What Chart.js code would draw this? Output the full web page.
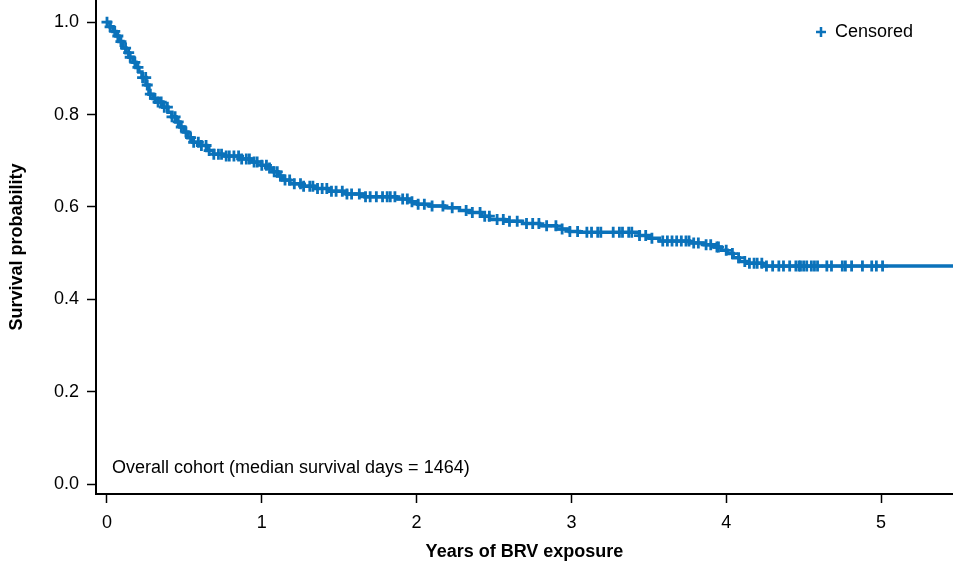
<!DOCTYPE html>
<html>
<head>
<meta charset="utf-8">
<script src="https://cdn.jsdelivr.net/npm/chart.js@4.4.1/dist/chart.umd.min.js"></script>
<style>
  html, body { margin: 0; padding: 0; background: #fff; }
  #wrap { width: 953px; height: 561px; }
</style>
</head>
<body>
<div id="wrap"><canvas id="km" width="953" height="561"></canvas></div>
<script>
// Kaplan-Meier steps: time (years) and survival after each drop
const stepYears = [0, 0.019, 0.039, 0.058, 0.077, 0.103, 0.123, 0.142, 0.168, 0.187, 0.206, 0.226,
  0.252, 0.271, 0.297, 0.329, 0.361, 0.394, 0.419, 0.445, 0.471, 0.497, 0.523, 0.555, 0.600,
  0.645, 0.690, 0.761, 0.858, 0.935, 1.000, 1.039, 1.071, 1.103, 1.135, 1.181, 1.258, 1.342,
  1.439, 1.548, 1.665, 1.871, 1.955, 2.006, 2.084, 2.181, 2.277, 2.342, 2.419, 2.471, 2.568,
  2.684, 2.794, 2.903, 2.987, 3.052, 3.439, 3.503, 3.568, 3.761, 3.858, 3.923, 3.968, 4.006,
  4.045, 4.084, 4.135, 4.232];
const stepSurv = [1.000, 0.990, 0.980, 0.970, 0.958, 0.944, 0.934, 0.924, 0.913, 0.902, 0.892, 0.880,
  0.864, 0.844, 0.835, 0.827, 0.816, 0.805, 0.795, 0.784, 0.773, 0.762, 0.750, 0.740, 0.733,
  0.722, 0.714, 0.710, 0.704, 0.697, 0.690, 0.684, 0.676, 0.667, 0.658, 0.650, 0.645, 0.640,
  0.634, 0.628, 0.622, 0.617, 0.611, 0.606, 0.602, 0.598, 0.592, 0.588, 0.580, 0.573, 0.569,
  0.564, 0.559, 0.552, 0.547, 0.545, 0.538, 0.532, 0.526, 0.522, 0.518, 0.513, 0.506, 0.499,
  0.490, 0.482, 0.478, 0.472];
// censored follow-up times (years)
const censorYears = [0.00, 0.02, 0.05, 0.07, 0.09, 0.12, 0.14, 0.15, 0.18, 0.20, 0.23, 0.25, 0.26,
  0.28, 0.31, 0.33, 0.35, 0.37, 0.39, 0.42, 0.44, 0.46, 0.48, 0.51, 0.54, 0.56, 0.59, 0.61, 0.64,
  0.66, 0.69, 0.72, 0.74, 0.77, 0.79, 0.82, 0.85, 0.87, 0.90, 0.92, 0.95, 0.97, 1.00, 1.03, 1.05,
  1.08, 1.10, 1.12, 1.15, 1.18, 1.21, 1.25, 1.27, 1.31, 1.33, 1.36, 1.39, 1.42, 1.45, 1.48, 1.52,
  1.55, 1.58, 1.63, 1.67, 1.70, 1.74, 1.78, 1.81, 1.83, 1.86, 1.91, 1.94, 1.97, 2.01, 2.05, 2.10,
  2.17, 2.23, 2.32, 2.36, 2.41, 2.44, 2.47, 2.52, 2.56, 2.60, 2.65, 2.71, 2.75, 2.79, 2.84, 2.90,
  2.94, 2.99, 3.04, 3.10, 3.13, 3.17, 3.19, 3.27, 3.31, 3.33, 3.37, 3.39, 3.44, 3.48, 3.52, 3.59,
  3.62, 3.65, 3.68, 3.71, 3.74, 3.76, 3.79, 3.82, 3.87, 3.90, 3.94, 3.95, 4.00, 4.04, 4.08, 4.12,
  4.15, 4.18, 4.20, 4.23, 4.26, 4.30, 4.34, 4.37, 4.41, 4.45, 4.47, 4.48, 4.50, 4.52, 4.55, 4.57,
  4.59, 4.65, 4.68, 4.75, 4.77, 4.81, 4.88, 4.94, 4.97, 5.01];
const lastFollowUp = 5.47;
const xTicks = [0, 1, 2, 3, 4, 5];
const yTicks = [0, 0.2, 0.4, 0.6, 0.8, 1.0];
const medianDays = 1464;

const BLUE = 'rgb(11,114,186)';
const FONT = '"Liberation Sans", Arial, Helvetica, sans-serif';

function survivalAt(t) {
  let s = stepSurv[0];
  for (let i = 0; i < stepYears.length; i++) {
    if (stepYears[i] <= t) s = stepSurv[i];
  }
  return s;
}

const curve = stepYears.map((x, i) => ({x: x, y: stepSurv[i]}));
curve.push({x: lastFollowUp, y: stepSurv[stepSurv.length - 1]});
const censored = censorYears.map(x => ({x: x, y: survivalAt(x)}));

// legend + cohort note drawn inside the plot area
const notes = {
  id: 'notes',
  afterDatasetsDraw(chart) {
    const ctx = chart.ctx;
    const a = chart.chartArea;
    ctx.save();
    ctx.font = '18px ' + FONT;
    ctx.fillStyle = '#000';
    ctx.textBaseline = 'middle';
    ctx.textAlign = 'left';
    ctx.fillText('Overall cohort (median survival days = ' + medianDays + ')', a.left + 16, a.bottom - 26);

    const lx = a.right - 132, ly = a.top + 32;
    ctx.strokeStyle = BLUE;
    ctx.lineWidth = 2.5;
    ctx.beginPath();
    ctx.moveTo(lx - 5, ly); ctx.lineTo(lx + 5, ly);
    ctx.moveTo(lx, ly - 5); ctx.lineTo(lx, ly + 5);
    ctx.stroke();
    ctx.fillText('Censored', lx + 14, ly);
    ctx.restore();
  }
};

new Chart(document.getElementById('km'), {
  type: 'line',
  data: {
    datasets: [
      {
        label: 'Overall cohort',
        data: curve,
        borderColor: BLUE,
        borderWidth: 3.5,
        stepped: true,
        pointRadius: 0,
        fill: false,
        order: 2
      },
      {
        type: 'scatter',
        label: 'Censored',
        data: censored,
        showLine: false,
        pointStyle: 'cross',
        pointRadius: 5.5,
        pointBorderWidth: 2.8,
        borderColor: BLUE,
        backgroundColor: BLUE,
        order: 1
      }
    ]
  },
  options: {
    responsive: false,
    animation: false,
    devicePixelRatio: 1,
    layout: {padding: 0, autoPadding: false},
    plugins: {legend: {display: false}, tooltip: {enabled: false}},
    scales: {
      x: {
        type: 'linear',
        min: -0.071,
        max: 5.465,
        afterBuildTicks: s => { s.ticks = xTicks.map(v => ({value: v})); },
        afterFit: s => { s.height = 67; s.paddingLeft = 0; s.paddingRight = 0; },
        grid: {display: true, drawOnChartArea: false, drawTicks: true, tickLength: 9, tickColor: '#000', tickWidth: 1.5},
        border: {display: true, color: '#000', width: 2},
        ticks: {color: '#000', padding: 9, maxRotation: 0, font: {family: FONT, size: 18}},
        title: {
          display: true,
          text: 'Years of BRV exposure',
          color: '#000',
          padding: {top: 6, bottom: -2},
          font: {family: FONT, size: 18, weight: 'bold'}
        }
      },
      y: {
        type: 'linear',
        min: -0.0216,
        max: 1.048,
        afterBuildTicks: s => { s.ticks = yTicks.map(v => ({value: v})); },
        afterFit: s => { s.width = 96; s.paddingTop = 0; s.paddingBottom = 0; },
        grid: {display: true, drawOnChartArea: false, drawTicks: true, tickLength: 9, tickColor: '#000', tickWidth: 1.5},
        border: {display: true, color: '#000', width: 2},
        ticks: {color: '#000', padding: 8, font: {family: FONT, size: 18}, callback: v => v.toFixed(1)},
        title: {
          display: true,
          text: 'Survival probability',
          color: '#000',
          padding: {top: 6, bottom: 0},
          font: {family: FONT, size: 18, weight: 'bold'}
        }
      }
    }
  },
  plugins: [notes]
});
</script>
</body>
</html>
